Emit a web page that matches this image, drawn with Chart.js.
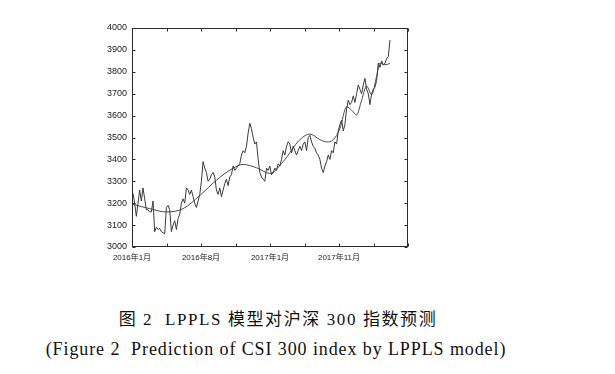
<!DOCTYPE html>
<html>
<head>
<meta charset="utf-8">
<script src="https://cdn.jsdelivr.net/npm/chart.js@4.4.1/dist/chart.umd.min.js"></script>
<style>
  body { margin: 0; background: #fff; width: 615px; height: 374px; overflow: hidden; position: relative; }
  #wrap { position: absolute; left: 0; top: 0; width: 615px; height: 290px; }
  .cap { position: absolute; left: 0; text-align: center; color: #111; white-space: nowrap;
         font-family: "Liberation Serif", "Noto Sans CJK SC", serif; }
</style>
</head>
<body>
<div id="wrap"><canvas id="chart"></canvas></div>
<div class="cap" style="top:305px;width:556px;font-size:17px;letter-spacing:1.6px">图 2&nbsp;&nbsp;LPPLS 模型对沪深 300 指数预测</div>
<div class="cap" style="top:339px;width:552px;font-size:18px;letter-spacing:0.9px">(Figure 2&nbsp;&nbsp;Prediction of CSI 300 index by LPPLS model)</div>
<script>
// CSI 300 close, one sample per step along the x axis
const priceValues = [
  3245, 3200, 3140, 3200, 3260, 3210, 3270, 3220, 3170, 3170,
  3160, 3160, 3210, 3070, 3090, 3080, 3085, 3070, 3065, 3060,
  3180, 3190, 3170, 3070, 3100, 3120, 3080, 3130, 3150, 3200,
  3220, 3200, 3270, 3260, 3240, 3260, 3230, 3200, 3180, 3210,
  3240, 3300, 3390, 3360, 3340, 3300, 3310, 3330, 3340, 3320,
  3260, 3240, 3270, 3230, 3260, 3290, 3310, 3280, 3320, 3330,
  3370, 3350, 3360, 3370, 3380, 3420, 3440, 3430, 3460, 3520,
  3565, 3540, 3500, 3470, 3480, 3400, 3340, 3320, 3310, 3300,
  3360, 3350, 3370, 3330, 3340, 3360, 3350, 3380, 3370, 3400,
  3440, 3420, 3460, 3480, 3470, 3430, 3460, 3440, 3420, 3440,
  3460, 3440, 3470, 3480, 3440, 3500, 3510, 3480, 3460, 3450,
  3430, 3420, 3400, 3360, 3340, 3370, 3390, 3420, 3400, 3440,
  3430, 3480, 3470, 3530, 3560, 3580, 3530, 3560, 3630, 3670,
  3650, 3660, 3690, 3660, 3700, 3740, 3720, 3700, 3740, 3770,
  3720, 3700, 3650, 3700, 3720, 3730, 3760, 3840, 3820, 3850,
  3830, 3840, 3860, 3870, 3945
];

// LPPLS fitted curve (step index, value)
const fitSteps  = [0, 10, 20, 30, 40, 50, 60, 66, 74, 82, 90, 100, 106, 112, 116, 120, 124, 128, 131, 134, 137, 140, 143, 146, 148, 151, 154];
const fitValues = [3195, 3175, 3160, 3175, 3235, 3305, 3360, 3377, 3362, 3336, 3390, 3490, 3516, 3490, 3480, 3490, 3540, 3640, 3625, 3603, 3670, 3735, 3695, 3780, 3840, 3832, 3838];

const xTickLabels = ['2016年1月', '', '2016年8月', '', '2017年1月', '', '2017年11月', '', ''];
const yMin = 3000, yMax = 4000, yStep = 100;
const xMin = -0.6, xMax = 164.8;

const frameColor = '#2b2b2b';

// box around the plot plus small inward tick marks on all four sides
const framePlugin = {
  id: 'frame',
  afterDatasetsDraw(chart) {
    const { ctx, chartArea, scales } = chart;
    const l = Math.round(chartArea.left) + 0.5;
    const r = Math.round(chartArea.right) - 0.5;
    const t = Math.round(chartArea.top) + 0.5;
    const b = Math.round(chartArea.bottom) - 0.5;
    const len = 3;
    ctx.save();
    ctx.strokeStyle = frameColor;
    ctx.lineWidth = 1;
    ctx.strokeRect(l, t, r - l, b - t);
    ctx.beginPath();
    scales.x.ticks.forEach(tk => {
      const px = Math.round(scales.x.getPixelForValue(tk.value)) + 0.5;
      ctx.moveTo(px, b); ctx.lineTo(px, b - len);
      ctx.moveTo(px, t); ctx.lineTo(px, t + len);
    });
    scales.y.ticks.forEach(tk => {
      const py = Math.round(scales.y.getPixelForValue(tk.value)) + 0.5;
      ctx.moveTo(l, py); ctx.lineTo(l + len, py);
      ctx.moveTo(r, py); ctx.lineTo(r - len, py);
    });
    ctx.stroke();
    ctx.restore();
  }
};

const ctx = document.getElementById('chart').getContext('2d');
new Chart(ctx, {
  type: 'line',
  data: {
    datasets: [
      {
        label: 'CSI 300',
        data: priceValues.map((v, i) => ({ x: i, y: v })),
        borderColor: '#3a3a3a',
        borderWidth: 1,
        pointRadius: 0,
        tension: 0
      },
      {
        label: 'LPPLS',
        data: fitSteps.map((s, i) => ({ x: s, y: fitValues[i] })),
        borderColor: '#4a4a4a',
        borderWidth: 1,
        pointRadius: 0,
        cubicInterpolationMode: 'monotone'
      }
    ]
  },
  options: {
    responsive: true,
    maintainAspectRatio: false,
    animation: false,
    layout: { padding: { left: 0, right: 207, top: 28, bottom: 15 } },
    plugins: {
      legend: { display: false },
      tooltip: { enabled: false }
    },
    scales: {
      x: {
        type: 'linear',
        min: xMin,
        max: xMax,
        afterBuildTicks: scale => {
          scale.ticks = xTickLabels.map((_, j) => ({ value: xMin + j * (xMax - xMin) / (xTickLabels.length - 1) }));
        },
        afterFit: scale => { scale.height = 28; },
        grid: { display: false, drawTicks: false },
        border: { display: false },
        ticks: {
          padding: 6,
          maxRotation: 0,
          autoSkip: false,
          color: '#222',
          font: { family: '"Liberation Sans", "Noto Sans CJK SC", sans-serif', size: 8 },
          callback: (value, index) => xTickLabels[index]
        }
      },
      y: {
        min: yMin,
        max: yMax,
        afterFit: scale => { scale.width = 132; },
        grid: { display: false, drawTicks: false },
        border: { display: false },
        ticks: {
          stepSize: yStep,
          padding: 5,
          color: '#222',
          font: { family: '"Liberation Sans", sans-serif', size: 9 },
          callback: value => String(value)
        }
      }
    }
  },
  plugins: [framePlugin]
});
</script>
</body>
</html>
